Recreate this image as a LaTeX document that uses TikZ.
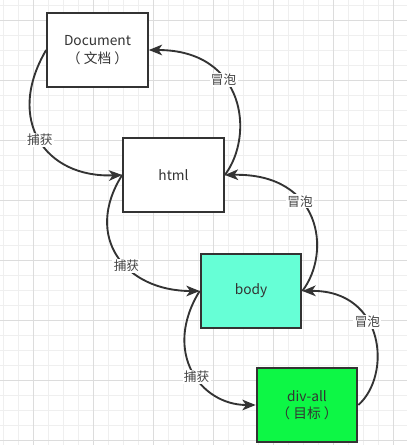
\documentclass[tikz,border=0pt]{standalone}
\usepackage{fontspec}
\setmainfont{Noto Sans CJK SC}
\usetikzlibrary{arrows.meta}
\definecolor{minorgrid}{HTML}{EFEFEF}
\definecolor{majorgrid}{HTML}{DCDCDC}
\definecolor{ink}{HTML}{333333}
\definecolor{lblink}{HTML}{444444}
\definecolor{bodyfill}{HTML}{66FFD6}
\definecolor{divfill}{HTML}{0DF745}
\tikzset{
  box/.style={draw=ink, line width=1.5pt, minimum width=75.5pt, minimum height=55.5pt,
    inner sep=0pt, align=center, font=\fontsize{10.3}{13}\selectfont, text=ink},
  conn/.style={draw=ink, line width=1.4pt, -{Stealth[length=10pt,width=8pt,inset=2.8pt]}},
  lbl/.style={fill=white, inner sep=1pt, text=lblink, font=\fontsize{9.5}{11}\selectfont}
}
\begin{document}
\begin{tikzpicture}[x=0.75pt,y=-0.75pt]
\useasboundingbox (0,0) rectangle (407,445);
\fill[white] (0,0) rectangle (407,445);
% grid
\foreach \k in {0,...,27} {
  \draw[minorgrid, line width=0.6pt] ({3.3+15*\k},0) -- ({3.3+15*\k},445);
}
\foreach \k in {0,...,29} {
  \draw[minorgrid, line width=0.6pt] (0,{5+15*\k}) -- (407,{5+15*\k});
}
\foreach \k in {0,...,6} {
  \draw[majorgrid, line width=0.6pt] ({33.3+60*\k},0) -- ({33.3+60*\k},445);
}
\foreach \k in {0,...,7} {
  \draw[majorgrid, line width=0.6pt] (0,{20+60*\k}) -- (407,{20+60*\k});
}
% boxes
\node[box, fill=white] (doc) at (97.5,50) {Document\\（ 文档 ）};
\node[box, fill=white] (html) at (173.5,175) {html};
\node[box, fill=bodyfill] (body) at (251,291) {body};
\node[box, fill=divfill] (div) at (307,405) {div-all\\（ 目标 ）};
% capture curves
\draw[conn] (doc.west) .. controls (5,120) and (45,178) .. (html.west)
  node[lbl, pos=0.5] {捕获};
\draw[conn] (html.west) .. controls (83,237) and (125,291) .. (body.west)
  node[lbl, pos=0.58] {捕获};
\draw[conn] (body.west) .. controls (162,352) and (200,405) .. (div.west)
  node[lbl, pos=0.55] {捕获};
% bubble curves
\draw[conn] (html.east) .. controls (255,135) and (245,50) .. (doc.east)
  node[lbl, pos=0.62] {冒泡};
\draw[conn] (body.east) .. controls (332,252) and (321,173) .. (html.east)
  node[lbl, pos=0.62] {冒泡};
\draw[conn] (div.east) .. controls (392,375) and (385,290) .. (body.east)
  node[lbl, pos=0.6] {冒泡};
\end{tikzpicture}
\end{document}
